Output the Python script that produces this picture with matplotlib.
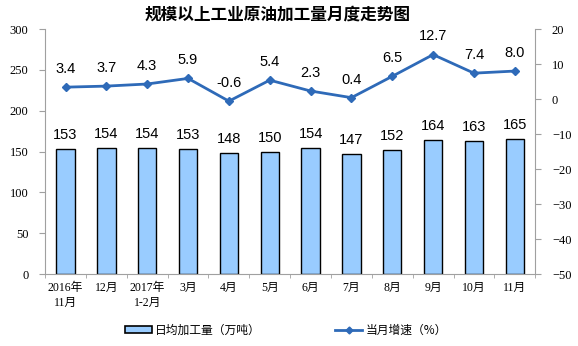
import matplotlib.pyplot as plt
import numpy as np

plt.rcParams['font.family'] = ['Noto Sans CJK SC', 'DejaVu Sans']

# 月份与数据
months = ['2016年\n11月', '12月', '2017年\n1-2月', '3月', '4月', '5月',
          '6月', '7月', '8月', '9月', '10月', '11月']
daily_output = [153, 154, 154, 153, 148, 150, 154, 147, 152, 164, 163, 165]
growth_rate = [3.4, 3.7, 4.3, 5.9, -0.6, 5.4, 2.3, 0.4, 6.5, 12.7, 7.4, 8.0]

bar_color = '#99CCFF'
line_color = '#2E6AB8'
spine_color = '#A0A0A0'
num_font = ['Liberation Serif', 'Noto Sans CJK SC']

fig = plt.figure(figsize=(5.78, 3.46), dpi=100)
ax = fig.add_axes([0.078, 0.208, 0.848, 0.708])
ax2 = ax.twinx()

x = np.arange(len(months))
ax.bar(x, daily_output, width=0.45, color=bar_color, edgecolor='black',
       linewidth=1.0, zorder=2)
for xi, v in zip(x, daily_output):
    ax.annotate(str(v), (xi, v), xytext=(0, 5), textcoords='offset points',
                ha='center', va='bottom', fontsize=10.5,
                family='Liberation Sans')

ax2.plot(x, growth_rate, color=line_color, linewidth=2.0, marker='D',
         markersize=4.5, zorder=3)
for xi, v in zip(x, growth_rate):
    ax2.annotate(f'{v:.1f}', (xi, v), xytext=(0, 8), textcoords='offset points',
                 ha='center', va='bottom', fontsize=10.5,
                 family='Liberation Sans')

ax.set_xlim(-0.5, len(months) - 0.5)
ax.set_ylim(0, 300)
ax.set_yticks(range(0, 301, 50))
ax2.set_ylim(-50, 20)
ax2.set_yticks(range(-50, 21, 10))

ax.set_xticks(x)
ax.set_xticklabels(months, fontsize=8.5, family=num_font, linespacing=1.3)
ax.set_xticks(np.arange(-0.5, len(months), 1), minor=True)
ax.tick_params(axis='x', which='major', length=0, pad=6)
ax.tick_params(axis='x', which='minor', length=3, color=spine_color,
               direction='out')
ax.tick_params(axis='y', length=4, color=spine_color, labelsize=9, pad=8)
ax2.tick_params(axis='y', length=4, color=spine_color, labelsize=9, pad=8)
for lbl in ax.get_yticklabels() + ax2.get_yticklabels():
    lbl.set_family(num_font)

for a in (ax, ax2):
    a.spines['top'].set_visible(False)
    for s in ('left', 'right', 'bottom'):
        a.spines[s].set_color(spine_color)
ax.spines['right'].set_visible(False)
ax2.spines['left'].set_visible(False)
ax2.spines['bottom'].set_visible(False)

fig.suptitle('规模以上工业原油加工量月度走势图', x=0.481, y=0.985,
             fontsize=12, fontweight='bold')

bar_h = plt.Rectangle((0, 0), 1, 1, facecolor=bar_color, edgecolor='black',
                      linewidth=1.2)
line_h, = plt.plot([], [], color=line_color, linewidth=2, marker='D',
                   markersize=3.5)
fig.legend([bar_h, line_h], ['日均加工量（万吨）', '当月增速（%）'],
           loc='center left', bbox_to_anchor=(0.198, 0.045), ncol=2,
           frameon=False, fontsize=8.5, columnspacing=6.3, handlelength=2.3,
           handleheight=0.55, handletextpad=0.25)

fig.savefig('out.png', dpi=100)
